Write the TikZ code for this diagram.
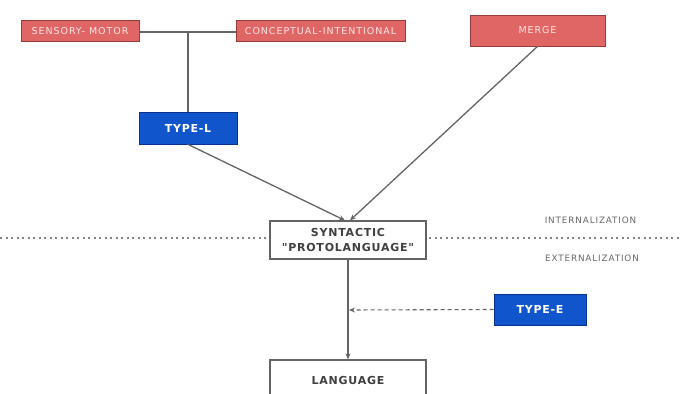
\documentclass[tikz,border=0pt]{standalone}
\usepackage{fontspec}
\setmainfont{DejaVu Sans}
\newfontfamily\lsfont[LetterSpace=10]{DejaVu Sans}
\newfontfamily\lsbold[LetterSpace=7]{DejaVu Sans Bold}
\usetikzlibrary{arrows.meta}
\definecolor{boxred}{RGB}{224,102,102}
\definecolor{boxredline}{RGB}{150,60,60}
\definecolor{boxblue}{RGB}{17,85,204}
\definecolor{boxblueline}{RGB}{10,50,140}
\definecolor{linegray}{RGB}{100,100,100}
\tikzset{
  redbox/.style={draw=boxredline, fill=boxred, line width=0.8pt, text=white!90!red, font=\lsfont\fontsize{9.5}{11}\selectfont, inner sep=0pt, anchor=center},
  bluebox/.style={draw=boxblueline, fill=boxblue, line width=0.8pt, text=white, font=\lsbold\fontsize{11}{13}\selectfont, inner sep=0pt},
  whitebox/.style={draw=linegray, fill=white, line width=1.2pt, text=black!75, font=\lsbold\fontsize{11}{15}\selectfont, inner sep=0pt, align=center},
  conn/.style={draw=linegray, line width=1.3pt},
  arr/.style={conn, -{Stealth[length=6pt,width=5pt]}},
  lab/.style={text=black!60, font=\lsfont\fontsize{8.8}{10}\selectfont}
}
\begin{document}
\begin{tikzpicture}[x=1pt,y=-1pt]
\useasboundingbox (0,0) rectangle (681,394);
\clip (0,0) rectangle (681,394);
\fill[white] (0,0) rectangle (681,394);
% divider
\draw[linegray!80, line width=1.1pt, dash pattern=on 2pt off 3.5pt] (0,238) -- (681,238);
% nodes
\node[redbox, minimum width=118pt, minimum height=21pt] (sm) at (80,31) {SENSORY- MOTOR};
\node[redbox, minimum width=169pt, minimum height=21pt] (ci) at (320.5,31) {CONCEPTUAL-INTENTIONAL};
\node[redbox, minimum width=135pt, minimum height=31pt] (merge) at (537.5,30.5) {MERGE};
\node[bluebox, minimum width=98pt, minimum height=32pt] (typel) at (188,128) {TYPE-L};
\node[whitebox, minimum width=156pt, minimum height=38pt] (syn) at (348,240) {SYNTACTIC\\"PROTOLANGUAGE"};
\node[bluebox, minimum width=92pt, minimum height=31pt] (typee) at (540,309.5) {TYPE-E};
\node[whitebox, minimum width=156pt, minimum height=60pt] (lang) at (348,390) {};
\node[font=\lsbold\fontsize{11}{13}\selectfont, text=black!75] (langtxt) at (348,380) {LANGUAGE};
\node[lab] (intl) at (590.5,220) {INTERNALIZATION};
\node[lab] (extl) at (592,258) {EXTERNALIZATION};
% connectors
\coordinate (j) at (188,32);
\draw[conn] (sm.east |- j) -- (ci.west |- j);
\draw[conn] (j) -- (typel.north);
\draw[arr] (typel.south) -- ([xshift=-3pt]syn.north);
\draw[arr] (merge.south) -- ([xshift=2pt]syn.north);
\draw[arr] (syn.south) -- (lang.north);
\coordinate (hit) at (349,310);
\draw[conn, line width=1.1pt, dash pattern=on 4pt off 3pt, -{Stealth[length=6pt,width=5pt]}] (typee.west) -- (hit);
\end{tikzpicture}
\end{document}
